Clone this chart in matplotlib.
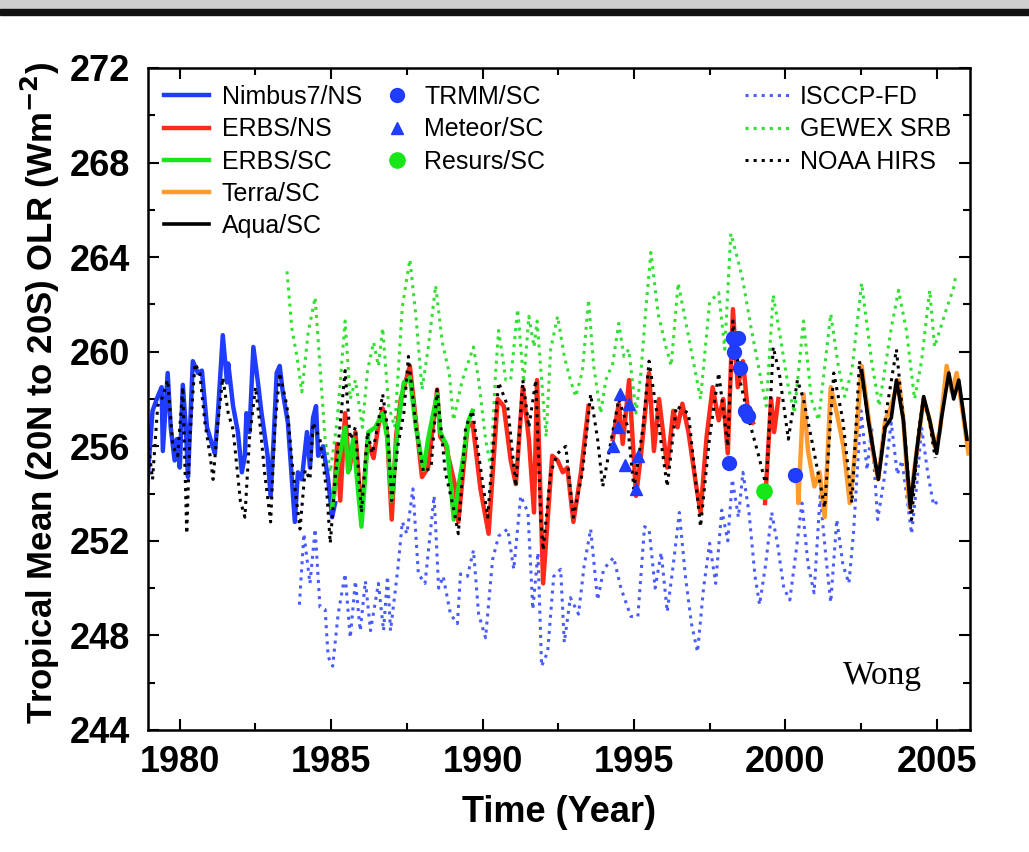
import numpy as np
import matplotlib
matplotlib.use("Agg")
import matplotlib.pyplot as plt
from matplotlib import font_manager
from matplotlib.patches import Rectangle
from matplotlib.ticker import MultipleLocator

# ---- data (year, OLR in W m-2) ----
nimbus_yr = [1978.9, 1979.1, 1979.27, 1979.4, 1979.44, 1979.6, 1979.7, 1979.83, 1979.9, 1980.0,
             1980.1, 1980.2, 1980.27, 1980.43, 1980.6, 1980.73, 1980.9, 1981.06, 1981.16, 1981.26,
             1981.42, 1981.56, 1981.6, 1981.76, 1981.92, 1982.05, 1982.15, 1982.2, 1982.3, 1982.43,
             1982.6, 1982.7, 1982.9, 1983.0, 1983.1, 1983.2, 1983.3, 1983.4, 1983.57, 1983.8,
             1983.9, 1984.03, 1984.2, 1984.3, 1984.4, 1984.5, 1984.57, 1984.73, 1984.9, 1985.03, 1985.13]
nimbus_olr = [253.9, 257.5, 258.1, 258.5, 255.8, 259.1, 256.8, 255.4, 256.3, 255.1,
              258.6, 256.8, 254.7, 259.6, 259.1, 259.2, 256.8, 256.1, 255.7, 257.4,
              260.7, 258.7, 259.5, 257.7, 256.6, 254.9, 255.6, 257.4, 256.6, 260.2,
              258.5, 257.4, 255.6, 253.9, 256.3, 259.1, 259.4, 258.3, 257.0, 252.8,
              254.9, 254.6, 256.6, 255.1, 257.2, 257.7, 255.6, 256.0, 254.6, 253.0, 253.6]

erbs_ns_yr = [1985.1, 1985.2, 1985.3, 1985.46, 1985.6, 1985.8, 1986.0, 1986.2, 1986.4, 1986.55,
              1986.7, 1986.85, 1987.0, 1987.15, 1987.3, 1987.6, 1988.0, 1988.2, 1988.5, 1988.6,
              1988.77, 1989.1, 1989.2, 1989.5, 1989.67, 1989.93, 1990.2, 1990.5, 1990.7, 1990.93,
              1991.1, 1991.33, 1991.53, 1991.7, 1991.8, 1992.0, 1992.3, 1992.48, 1992.65, 1992.8,
              1993.0, 1993.25, 1993.5, 1993.9, 1994.3, 1994.5, 1994.63, 1994.84, 1995.07, 1995.23,
              1995.5, 1995.66, 1995.83, 1996.1, 1996.3, 1996.44, 1996.6, 1996.8, 1997.06, 1997.2,
              1997.4, 1997.6, 1997.8, 1997.95, 1998.1, 1998.27, 1998.43, 1998.6, 1998.77, 1998.93,
              1999.1, 1999.33, 1999.53, 1999.63, 1999.77]
erbs_ns_olr = [254.0, 256.1, 253.7, 257.4, 255.0, 256.6, 253.0, 256.2, 255.5, 256.8,
               257.6, 256.5, 252.9, 256.5, 258.0, 259.4, 254.7, 255.1, 258.4, 256.4,
               256.1, 254.3, 252.8, 256.8, 257.0, 254.2, 252.3, 258.0, 257.7, 255.4,
               254.4, 258.5, 256.3, 253.2, 258.8, 250.2, 255.6, 255.4, 254.9, 255.1,
               252.8, 254.9, 257.7, np.nan, 256.3, 257.8, 256.1, 258.8, 253.9, 255.6,
               259.1, 255.8, 258.0, 255.1, 257.5, 256.8, 257.8, 256.6, 254.3, 253.2,
               256.4, 258.5, 257.1, 258.0, 255.7, 261.8, 258.5, 259.6, 257.4, 257.0,
               np.nan, 253.6, 258.0, 256.6, 258.0]

erbs_sc_yr = [1985.03, 1985.2, 1985.46, 1985.56, 1985.73, 1986.0, 1986.23, 1986.46, 1986.7, 1986.86,
              1987.0, 1987.2, 1987.4, 1987.6, 1987.8, 1988.05, 1988.2, 1988.5, 1988.6, 1988.83,
              1989.05, 1989.17, 1989.37, 1989.54, 1989.67]
erbs_sc_olr = [253.4, 255.1, 256.8, 254.9, 256.3, 252.6, 256.6, 256.8, 257.4, 256.3,
               253.7, 256.8, 258.7, 258.9, 256.8, 255.0, 256.3, 258.2, 256.6, 256.0,
               252.9, 254.0, 255.6, 257.1, 257.5]

terra_yr = [2000.4, 2000.43, 2000.6, 2000.75, 2000.96, 2001.13, 2001.3, 2001.5, 2001.7, 2001.92,
            2002.13, 2002.3, 2002.52, 2002.7, 2002.9, 2003.07, 2003.3, 2003.5, 2003.74, 2003.9,
            2004.1, 2004.33, 2004.57, 2004.77, 2004.93, 2005.1, 2005.33, 2005.5, 2005.66, 2005.83, 2006.05]
terra_olr = [254.9, 253.6, 258.2, 255.8, 254.3, 254.9, 253.0, 258.5, 257.4, 256.0,
             253.6, 255.7, 259.4, 257.7, 255.7, 254.6, 257.1, 257.7, 258.8, 257.1,
             253.4, 255.7, 258.0, 257.1, 256.0, 256.6, 259.4, 258.3, 259.1, 257.7, 255.7]

aqua_yr = [2002.52, 2002.74, 2003.07, 2003.3, 2003.5, 2003.67, 2003.9, 2004.13, 2004.33, 2004.57,
           2004.77, 2005.0, 2005.16, 2005.4, 2005.56, 2005.73, 2006.0]
aqua_olr = [259.2, 257.1, 254.6, 256.8, 257.2, 258.8, 257.1, 253.4, 255.7, 258.1,
            257.1, 255.7, 257.2, 259.1, 258.0, 258.8, 256.3]

trmm_yr = [1998.15, 1998.28, 1998.45, 1998.32, 1998.5, 1998.68, 1998.77, 2000.33]
trmm_olr = [255.3, 260.6, 260.6, 260.0, 259.3, 257.5, 257.3, 254.8]

meteor_yr = [1994.3, 1994.47, 1994.54, 1994.7, 1994.83, 1995.07, 1995.13]
meteor_olr = [256.0, 256.8, 258.2, 255.2, 257.8, 254.2, 255.6]

resurs_yr = [1999.3]
resurs_olr = [254.1]

isccp_yr = [1983.95, 1984.1, 1984.3, 1984.47, 1984.63, 1984.8, 1984.9, 1985.05, 1985.23, 1985.46,
            1985.63, 1985.8, 1985.96, 1986.13, 1986.3, 1986.56, 1986.73, 1986.86, 1986.96, 1987.2,
            1987.35, 1987.5, 1987.7, 1987.88, 1988.1, 1988.4, 1988.55, 1988.7, 1988.94, 1989.17,
            1989.27, 1989.5, 1989.7, 1989.87, 1990.1, 1990.33, 1990.53, 1990.83, 1991.03, 1991.26,
            1991.5, 1991.66, 1991.83, 1991.95, 1992.15, 1992.35, 1992.58, 1992.7, 1992.9, 1993.17,
            1993.35, 1993.57, 1993.8, 1994.0, 1994.33, 1994.57, 1994.9, 1995.13, 1995.35, 1995.5,
            1995.7, 1995.9, 1996.1, 1996.3, 1996.5, 1996.7, 1996.9, 1997.1, 1997.3, 1997.5,
            1997.7, 1997.9, 1998.1, 1998.25, 1998.45, 1998.6, 1998.8, 1999.0, 1999.15, 1999.35,
            1999.55, 1999.75, 1999.95, 2000.15, 2000.35, 2000.55, 2000.75, 2000.95, 2001.15, 2001.35,
            2001.5, 2001.7, 2001.9, 2002.1, 2002.25, 2002.5, 2002.7, 2002.85, 2003.05, 2003.25,
            2003.5, 2003.7, 2003.85, 2004.05, 2004.17, 2004.35, 2004.5, 2004.7, 2004.9, 2005.05]
isccp_olr = [249.3, 252.3, 250.2, 252.5, 249.2, 249.1, 247.1, 246.7, 248.9, 250.6,
             247.9, 250.3, 248.2, 250.3, 248.2, 250.2, 248.2, 250.5, 248.2, 250.8,
             252.8, 252.3, 254.2, 250.6, 250.2, 253.9, 250.0, 250.5, 248.9, 248.5,
             250.6, 250.5, 251.6, 248.9, 247.9, 251.2, 252.2, 252.5, 250.8, 253.9,
             253.2, 249.1, 251.5, 246.7, 247.3, 250.5, 250.8, 247.7, 249.6, 248.9,
             250.9, 252.5, 249.5, 250.8, 251.3, 250.0, 248.8, 248.8, 252.6, 252.5,
             250.0, 251.5, 249.0, 251.0, 253.2, 250.5, 248.5, 247.3, 250.0, 251.9,
             250.2, 253.3, 252.0, 254.6, 253.0, 254.9, 253.2, 250.5, 249.3, 251.0,
             253.2, 251.8, 250.0, 249.5, 251.5, 253.6, 251.0, 249.8, 253.9, 251.2,
             249.4, 252.9, 251.0, 250.2, 252.3, 257.5, 255.0, 256.8, 252.9, 254.5,
             257.0, 254.8, 255.4, 253.5, 252.3, 254.5, 256.8, 254.9, 253.5, 253.7]

gewex_yr = [1983.54, 1983.7, 1983.87, 1984.03, 1984.24, 1984.47, 1984.63, 1984.8, 1984.97, 1985.2,
            1985.46, 1985.63, 1985.8, 1986.03, 1986.2, 1986.4, 1986.56, 1986.7, 1986.9, 1987.1,
            1987.35, 1987.6, 1987.8, 1988.0, 1988.2, 1988.45, 1988.67, 1988.9, 1989.04, 1989.33,
            1989.54, 1989.7, 1989.87, 1990.1, 1990.27, 1990.43, 1990.53, 1990.77, 1990.93, 1991.16,
            1991.36, 1991.53, 1991.7, 1991.8, 1992.0, 1992.1, 1992.25, 1992.48, 1992.7, 1992.9,
            1993.08, 1993.3, 1993.5, 1993.67, 1993.9, 1994.07, 1994.3, 1994.5, 1994.67, 1994.83,
            1995.07, 1995.23, 1995.4, 1995.56, 1995.8, 1996.06, 1996.23, 1996.46, 1996.66, 1996.96,
            1997.2, 1997.5, 1997.8, 1998.0, 1998.2, 1998.43, 1998.6, 1998.87, 1999.14, 1999.37,
            1999.6, 1999.8, 2000.1, 2000.3, 2000.6, 2000.86, 2001.1, 2001.5, 2001.75, 2001.96,
            2002.2, 2002.52, 2002.85, 2003.1, 2003.5, 2003.74, 2004.0, 2004.27, 2004.5, 2004.77,
            2004.93, 2005.27, 2005.56, 2005.63]
gewex_olr = [263.4, 261.0, 259.8, 258.3, 260.8, 262.3, 259.4, 256.3, 254.9, 257.1,
             261.3, 258.0, 258.8, 256.8, 259.2, 260.4, 259.4, 261.0, 257.7, 256.8,
             261.9, 263.9, 261.5, 258.4, 260.1, 262.8, 260.4, 259.1, 257.1, 258.8,
             259.6, 260.2, 258.8, 256.3, 255.1, 259.1, 260.9, 258.8, 258.8, 261.8,
             258.7, 261.5, 260.2, 261.3, 258.0, 256.4, 260.1, 261.5, 259.8, 258.8,
             258.1, 259.2, 262.2, 259.4, 257.4, 258.8, 259.5, 261.2, 259.8, 260.1,
             257.4, 259.1, 261.9, 264.2, 261.6, 260.2, 259.4, 262.9, 261.6, 259.6,
             258.0, 262.1, 262.5, 260.1, 265.0, 263.9, 263.0, 261.0, 259.2, 257.7,
             262.4, 260.9, 258.5, 257.4, 261.3, 258.0, 257.1, 261.6, 259.4, 258.1,
             259.2, 262.9, 259.6, 257.7, 261.0, 262.6, 260.9, 258.0, 259.6, 262.6,
             260.2, 261.6, 262.7, 263.2]

hirs_yr = [1978.94, 1979.1, 1979.27, 1979.44, 1979.6, 1979.77, 1979.93, 1980.1, 1980.23, 1980.33,
           1980.5, 1980.66, 1980.83, 1981.0, 1981.1, 1981.26, 1981.42, 1981.6, 1981.76, 1982.0,
           1982.15, 1982.3, 1982.5, 1982.66, 1982.8, 1983.0, 1983.14, 1983.3, 1983.54, 1983.74,
           1983.97, 1984.14, 1984.3, 1984.4, 1984.63, 1984.86, 1984.97, 1985.13, 1985.46, 1985.63,
           1985.8, 1986.0, 1986.2, 1986.36, 1986.53, 1986.7, 1986.86, 1987.0, 1987.2, 1987.4,
           1987.55, 1987.8, 1988.05, 1988.3, 1988.5, 1988.77, 1989.04, 1989.2, 1989.44, 1989.67,
           1989.93, 1990.17, 1990.37, 1990.53, 1990.83, 1991.1, 1991.33, 1991.53, 1991.76, 1991.92,
           1992.0, 1992.25, 1992.48, 1992.75, 1993.0, 1993.3, 1993.57, 1993.8, 1993.97, 1994.17,
           1994.5, 1994.8, 1995.0, 1995.3, 1995.5, 1995.83, 1996.1, 1996.4, 1996.8, 1997.2,
           1997.5, 1997.8, 1998.1, 1998.27, 1998.5, 1998.8, 1999.1, 1999.37, 1999.6, 1999.8,
           2000.1, 2000.4, 2000.6, 2000.96, 2001.3, 2001.6, 2001.9, 2002.2, 2002.45, 2002.74,
           2003.07, 2003.34, 2003.67, 2003.94, 2004.17, 2004.4, 2004.57, 2004.77, 2004.95]
hirs_olr = [256.3, 254.6, 257.7, 258.1, 258.8, 256.0, 255.6, 258.5, 252.3, 256.3,
            259.5, 259.1, 257.0, 255.6, 254.6, 257.0, 258.9, 257.4, 256.7, 253.7,
            253.0, 256.3, 258.5, 256.8, 254.9, 252.8, 256.8, 259.1, 257.7, 254.9,
            252.5, 255.0, 254.6, 257.0, 256.3, 254.0, 251.9, 254.6, 259.2, 256.3,
            256.8, 253.2, 256.6, 255.7, 256.8, 258.2, 256.8, 253.7, 256.0, 257.4,
            259.8, 256.8, 254.9, 255.1, 258.4, 254.9, 253.4, 252.3, 256.8, 257.5,
            255.1, 253.0, 256.3, 258.7, 257.7, 254.3, 258.8, 256.8, 258.8, 253.0,
            251.6, 254.9, 255.7, 256.0, 253.0, 254.9, 258.2, 256.3, 254.3, 255.7,
            258.0, 256.8, 254.2, 256.8, 259.6, 256.8, 254.3, 257.7, 257.4, 252.6,
            256.4, 259.1, 256.0, 261.3, 258.8, 257.1, 255.7, 254.3, 260.2, 259.1,
            256.3, 258.8, 258.0, 255.7, 253.4, 259.1, 257.1, 253.6, 259.6, 257.1,
            254.6, 257.5, 260.1, 256.6, 252.9, 256.6, 258.1, 257.0, 255.5]

# ---- fonts ----
names = {f.name for f in font_manager.fontManager.ttflist}
narrow = "Liberation Sans Narrow" if "Liberation Sans Narrow" in names else "Liberation Sans"
plt.rcParams["font.family"] = ["Liberation Sans", "DejaVu Sans"]

fig = plt.figure(figsize=(10.29, 8.52), dpi=100)
ax = fig.add_axes([148 / 1029, 1 - 730 / 852, 822 / 1029, 662 / 852])

blue = "#1f3cff"
red = "#ff2a1a"
green = "#19e619"
orange = "#ff9a2e"

h_isccp, = ax.plot(isccp_yr, isccp_olr, ls=":", color="#4a5cff", lw=2.2, label="ISCCP-FD")
h_gewex, = ax.plot(gewex_yr, gewex_olr, ls=":", color="#33e033", lw=2.2, label="GEWEX SRB")
h_nimbus, = ax.plot(nimbus_yr, nimbus_olr, color=blue, lw=3.2, label="Nimbus7/NS")
h_ens, = ax.plot(erbs_ns_yr, erbs_ns_olr, color=red, lw=3.2, label="ERBS/NS")
h_esc, = ax.plot(erbs_sc_yr, erbs_sc_olr, color=green, lw=3.2, label="ERBS/SC")
h_terra, = ax.plot(terra_yr, terra_olr, color=orange, lw=3.2, label="Terra/SC")
h_aqua, = ax.plot(aqua_yr, aqua_olr, color="black", lw=2.6, label="Aqua/SC")
h_hirs, = ax.plot(hirs_yr, hirs_olr, ls=":", color="black", lw=2.2, label="NOAA HIRS")
h_trmm, = ax.plot(trmm_yr, trmm_olr, "o", color=blue, ms=10, ls="none", label="TRMM/SC")
h_meteor, = ax.plot(meteor_yr, meteor_olr, "^", color=blue, ms=9, ls="none", label="Meteor/SC")
h_resurs, = ax.plot(resurs_yr, resurs_olr, "o", color=green, ms=11, ls="none", label="Resurs/SC")

ax.set_xlim(1978.95, 2006.1)
ax.set_ylim(244, 272)
ax.xaxis.set_major_locator(MultipleLocator(5))
ax.xaxis.set_minor_locator(MultipleLocator(2.5))
ax.yaxis.set_major_locator(MultipleLocator(4))
ax.yaxis.set_minor_locator(MultipleLocator(2))
ax.tick_params(which="both", direction="in", top=True, right=True, width=1.5)
ax.tick_params(which="major", length=8)
ax.tick_params(which="minor", length=5)
ax.tick_params(axis="y", pad=13)
ax.tick_params(axis="x", pad=11)
for lab in ax.get_xticklabels() + ax.get_yticklabels():
    lab.set_family(narrow)
    lab.set_fontsize(26)
    lab.set_fontweight("bold")
for sp in ax.spines.values():
    sp.set_linewidth(1.8)

leg_kw = dict(loc="upper left", frameon=False, fontsize=18, labelspacing=0.33,
              borderpad=0, borderaxespad=0)
leg1 = ax.legend(handles=[h_nimbus, h_ens, h_esc, h_terra, h_aqua],
                 bbox_to_anchor=(0.02, 0.974), handlelength=1.8, handletextpad=0.5, **leg_kw)
ax.add_artist(leg1)
leg2 = ax.legend(handles=[h_trmm, h_meteor, h_resurs],
                 bbox_to_anchor=(0.289, 0.974), handlelength=0.9, handletextpad=0.65, **leg_kw)
ax.add_artist(leg2)
ax.legend(handles=[h_isccp, h_gewex, h_hirs],
          bbox_to_anchor=(0.726, 0.974), handlelength=1.8, handletextpad=0.4, **leg_kw)

ax.text(0.8455, 0.0695, "Wong", transform=ax.transAxes, family="Liberation Serif",
        fontsize=24, va="baseline", ha="left")

fig.text(40 / 1029, 1 - 393 / 852, "Tropical Mean (20N to 20S) OLR (Wm$^{\\mathbf{-2}}$)",
         rotation=90, ha="center", va="center", family=narrow, fontsize=25, fontweight="bold")
fig.text(559 / 1029, 1 - 812 / 852, "Time (Year)", ha="center", va="center",
         family=narrow, fontsize=26, fontweight="bold")

# screenshot border at the top
fig.patches.append(Rectangle((0, 1 - 9 / 852), 1, 9 / 852, transform=fig.transFigure,
                             color="#cfcfcf", zorder=0))
fig.patches.append(Rectangle((0, 1 - 15 / 852), 1, 6 / 852, transform=fig.transFigure,
                             color="#111111", zorder=0))

fig.savefig("out.png", dpi=100)
